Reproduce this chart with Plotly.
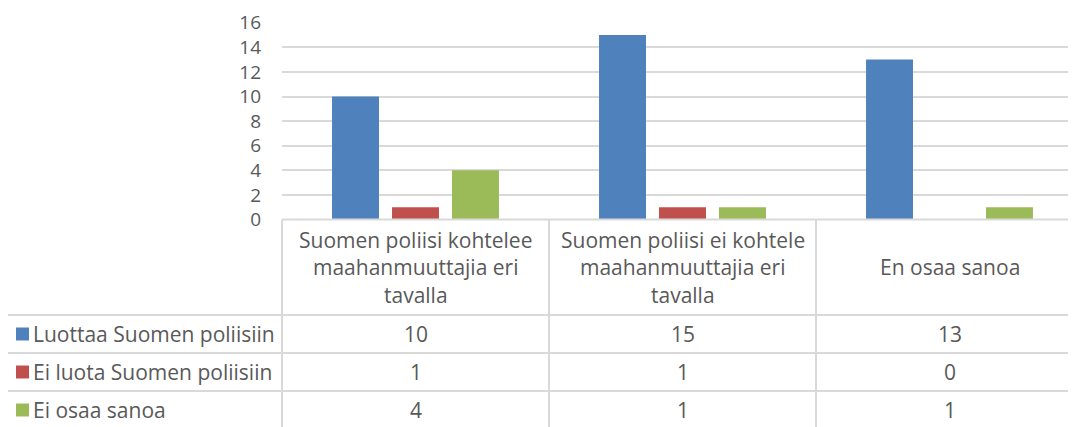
import plotly.graph_objects as go

categories = [
    "Suomen poliisi kohtelee<br>maahanmuuttajia eri<br>tavalla",
    "Suomen poliisi ei kohtele<br>maahanmuuttajia eri<br>tavalla",
    "En osaa sanoa",
]
series_names = ["Luottaa Suomen poliisiin", "Ei luota Suomen poliisiin", "Ei osaa sanoa"]
luottaa = [10, 15, 13]
ei_luota = [1, 1, 0]
ei_osaa = [4, 1, 1]
colors = ["#4F81BD", "#C0504D", "#9BBB59"]

W, H = 1076, 427
OFF = 8  # page body margin
FONT = "Open Sans"
GRAY = "#595959"
LINE = "#d9d9d9"


def px(x):
    return (x - OFF) / W


def py(y):
    return 1 - (y - OFF) / H


# plot area geometry (screen pixels)
left, cat_w = 282, 267
y0, y16 = 219.5, 22.7
header_bottom = 315
row_h = 38

fig = go.Figure()
xs = list(range(len(categories)))
for name, vals, col in zip(series_names, [luottaa, ei_luota, ei_osaa], colors):
    fig.add_trace(go.Bar(x=xs, y=vals, name=name, marker=dict(color=col, line=dict(width=0))))

fig.update_layout(
    width=W, height=H,
    margin=dict(l=0, r=0, t=0, b=0),
    paper_bgcolor="white", plot_bgcolor="white",
    barmode="group", bargap=0.326, bargroupgap=0.217,
    showlegend=False,
    font=dict(family=FONT, color=GRAY),
    xaxis=dict(domain=[px(left), px(left + 3 * cat_w)], range=[-0.5, 2.5], automargin=False,
               showticklabels=False, showgrid=False, zeroline=False, ticks=""),
    yaxis=dict(domain=[py(y0), py(y16)], range=[0, 16], dtick=2, automargin=False,
               showgrid=True, gridcolor=LINE, gridwidth=2, zeroline=False,
               ticks="", ticklabelstandoff=20,
               tickfont=dict(size=19, color=GRAY, family=FONT)),
)

shapes = []


def hline(y, x0, x1):
    shapes.append(dict(type="line", xref="paper", yref="paper", x0=px(x0), x1=px(x1),
                       y0=py(y), y1=py(y), line=dict(color=LINE, width=2)))


def vline(x, ya, yb):
    shapes.append(dict(type="line", xref="paper", yref="paper", x0=px(x), x1=px(x),
                       y0=py(ya), y1=py(yb), line=dict(color=LINE, width=2)))


hline(y0, left, W + OFF)
for i in range(3):
    hline(header_bottom + i * row_h, 7, W + OFF)
for i in range(3):
    vline(left + i * cat_w, y0, H + OFF)
vline(7, header_bottom, H + OFF)

annotations = []
txt = dict(size=21, color=GRAY, family=FONT)
# category header text
line_gap = 27.5
header_mid = (y0 + header_bottom) / 2
for i, cat in enumerate(categories):
    lines = cat.split("<br>")
    cx = left + (i + 0.5) * cat_w
    for j, ln in enumerate(lines):
        yy = header_mid + (j - (len(lines) - 1) / 2) * line_gap
        annotations.append(dict(x=px(cx), y=py(yy), xref="paper", yref="paper", text=ln,
                                showarrow=False, xanchor="center", yanchor="middle", font=txt))

# data rows
for r, (name, vals, col) in enumerate(zip(series_names, [luottaa, ei_luota, ei_osaa], colors)):
    cy = header_bottom + (r + 0.5) * row_h
    shapes.append(dict(type="rect", xref="paper", yref="paper", x0=px(16), x1=px(29),
                       y0=py(cy + 6.5), y1=py(cy - 6.5), fillcolor=col, line=dict(width=0)))
    annotations.append(dict(x=px(31), y=py(cy), xref="paper", yref="paper", text=name,
                            showarrow=False, xanchor="left", yanchor="middle", font=txt))
    for i, v in enumerate(vals):
        cx = left + (i + 0.5) * cat_w
        annotations.append(dict(x=px(cx), y=py(cy), xref="paper", yref="paper", text=str(v),
                                showarrow=False, xanchor="center", yanchor="middle", font=txt))

fig.update_layout(shapes=shapes, annotations=annotations)
fig.write_html("out.html")
